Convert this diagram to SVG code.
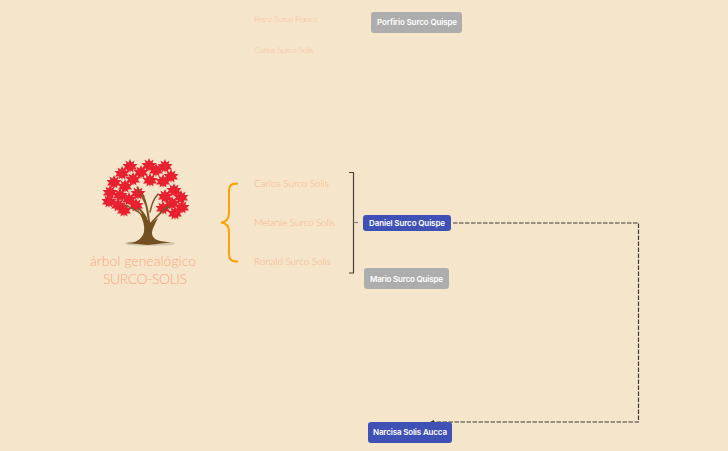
<svg xmlns="http://www.w3.org/2000/svg" width="728" height="451" viewBox="0 0 728 451">
<style>
.t{font-family:"Lato","Noto Sans",sans-serif;font-weight:300;fill:#fbae8a}
.s{font-size:8.6px;fill:#fbbb9c}
.m{font-size:10px}
.h{font-size:14px;fill:#fba57e}
.n{font-family:"Inter","Noto Sans",sans-serif;font-weight:600;font-size:8px;fill:#fff;text-anchor:middle}
.blue{fill:#3f51b5}
.grey{fill:#adadad}
.c{fill:none}
</style>
<defs>
<polygon id="leaf" fill="#e8202f" points="0,-7 1.500,-3.500 4.500,-5.500 3.500,-2 7.500,-2 5,0.800 7,3.500 3,3.500 3.500,6.500 0.800,4.500 0,7 -0.800,4.500 -3.500,6.500 -3,3.500 -7,3.500 -5,0.800 -7.500,-2 -3.500,-2 -4.500,-5.500 -1.500,-3.500"/>
</defs>
<rect width="728" height="451" fill="#f5e6cb"/>
<g id="tree">
<ellipse cx="150" cy="243.500" rx="25" ry="2.300" fill="#c9bda8" opacity="0.8"/>
<g>
<use href="#leaf" x="130" y="166"/><use href="#leaf" x="149" y="165"/><use href="#leaf" x="156" y="170"/><use href="#leaf" x="165" y="166"/>
<use href="#leaf" x="171" y="176"/><use href="#leaf" x="141" y="172"/><use href="#leaf" x="122" y="173"/><use href="#leaf" x="133" y="179"/>
<use href="#leaf" x="150" y="180"/><use href="#leaf" x="163" y="181"/><use href="#leaf" x="114" y="182"/>
<use href="#leaf" x="125" y="186"/><use href="#leaf" x="110" y="192"/><use href="#leaf" x="120" y="195"/>
<use href="#leaf" x="109" y="201"/><use href="#leaf" x="118" y="205"/><use href="#leaf" x="129" y="199"/><use href="#leaf" x="138" y="193"/>
<use href="#leaf" x="124" y="210"/><use href="#leaf" x="136" y="205"/><use href="#leaf" x="174" y="190"/><use href="#leaf" x="181" y="197"/>
<use href="#leaf" x="165" y="196"/><use href="#leaf" x="172" y="203"/><use href="#leaf" x="163" y="208"/>
<use href="#leaf" x="175" y="213"/><use href="#leaf" x="182" y="207"/>
</g>
<g fill="none" stroke="#7b5527" stroke-linecap="round">
<path d="M149 222C148 212 147 204 143 196" stroke-width="2"/>
<path d="M145 203L137 187" stroke-width="1.200"/>
<path d="M141 214C135 209 130 207 124 205" stroke-width="1.500"/>
<path d="M150 212C152 204 153 200 158 194" stroke-width="1.500"/>
<path d="M152 222C158 216 162 210 169 206" stroke-width="1.800"/>
<path d="M146 218C144 214 142 212 139 208" stroke-width="2"/>
</g>
<path d="M126 243C135 243 142 240 144 232C145 226 143 220 140 214L144 214C147 220 150 224 153 222L158 218C155 224 152 229 152 234C153 240 160 242 171 242C160 244 154 244 148 245C140 244 134 244 126 243Z" fill="#73501f"/>
</g>
<g id="title">
<text class="t h" x="90" y="265.500" textLength="106">árbol genealógico</text>
<text class="t h" x="103" y="283.500" textLength="84">SURCO-SOLIS</text>
</g>
<g id="connectors">
<path class="c" stroke="#ffa000" stroke-width="2" d="M238 183.500C230 183.500 229 186 229 192V213C229 219 226 222 221 222.500C226 223 229 226 229 232V253C229 259 230 261.500 238 261.500"/>
<path class="c" stroke="#4a4238" stroke-width="1.200" d="M349 172.500H353.500V273H349"/>
<path class="c" stroke="#8a8274" stroke-width="1.200" d="M353.500 222.500H358"/>
<path class="c" stroke="#3f3b34" stroke-width="1.200" stroke-dasharray="4.500 1.500" d="M453 223H638.500V422H433"/>
<polygon points="430,422 434,420 434,424" fill="#333"/>
</g>
<g id="franz"><text class="t s" x="254" y="21.500" textLength="64">Franz Surco Franco</text></g>
<g id="carlos-top"><text class="t s" x="254" y="52.800" textLength="60">Carlos Surco Solis</text></g>
<g id="carlos"><text class="t m" x="254" y="187" textLength="75">Carlos Surco Solis</text></g>
<g id="melanie"><text class="t m" x="254" y="226" textLength="81">Melanie Surco Solis</text></g>
<g id="ronald"><text class="t m" x="254" y="265" textLength="77">Ronald Surco Solis</text></g>
<g id="porfirio"><rect class="grey" x="371" y="12" width="91" height="21" rx="3"/><text class="n" x="417" y="25" textLength="80">Porfirio Surco Quispe</text></g>
<g id="daniel"><rect class="blue" x="363" y="215" width="88" height="16" rx="3"/><text class="n" x="407" y="226" textLength="76">Daniel Surco Quispe</text></g>
<g id="mario"><rect class="grey" x="364" y="268" width="85" height="21" rx="3"/><text class="n" x="406.500" y="281.500" textLength="73">Mario Surco Quispe</text></g>
<g id="narcisa"><rect class="blue" x="368" y="422" width="84" height="21" rx="3"/><text class="n" x="410" y="435" textLength="74">Narcisa Solis Aucca</text></g>
</svg>
